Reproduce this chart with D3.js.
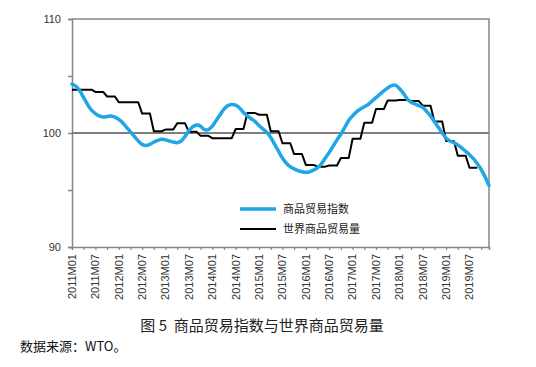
<!DOCTYPE html>
<html>
<head>
<meta charset="utf-8">
<script src="https://cdn.jsdelivr.net/npm/d3@7"></script>
<style>
  html, body { margin: 0; padding: 0; background: #fff; }
  svg { display: block; }
</style>
</head>
<body>
<div class="chart"></div>
<script>
'use strict';
(function() {
  // Data
  var years = [2011, 2012, 2013, 2014, 2015, 2016, 2017, 2018, 2019];
  var monthCodes = ['01','02','03','04','05','06','07','08','09','10','11','12'];
  var months = [];
  years.forEach(function(y) {
    monthCodes.forEach(function(m) { months.push(y + 'M' + m); });
  });

  var xTickLabels = ['2011M01','2011M07','2012M01','2012M07','2013M01','2013M07',
    '2014M01','2014M07','2015M01','2015M07','2016M01','2016M07',
    '2017M01','2017M07','2018M01','2018M07','2019M01','2019M07'];

  var yTicks = [90, 95, 100, 105, 110];
  var yTickLabels = [90, 100, 110];

  // 商品贸易指数, monthly 2011M01 - 2019M12
  var tradeIndex = [
    104.3, 104.1, 103.7, 103.1, 102.5, 102.0, 101.7, 101.5, 101.4, 101.45, 101.5, 101.4,
    101.2, 100.9, 100.5, 100.1, 99.7, 99.3, 99.0, 98.9, 99.0, 99.2, 99.35, 99.45,
    99.4, 99.3, 99.2, 99.15, 99.3, 99.7, 100.2, 100.55, 100.7, 100.6, 100.3, 100.3,
    100.6, 101.1, 101.6, 102.1, 102.4, 102.5, 102.45, 102.2, 101.8, 101.5, 101.25, 101.0,
    100.65, 100.35, 100.05, 99.6, 99.0, 98.4, 97.8, 97.35, 97.05, 96.85, 96.7, 96.6,
    96.55, 96.6, 96.75, 96.95, 97.3, 97.8, 98.3, 98.85, 99.4, 99.9, 100.5, 101.1,
    101.5, 101.85, 102.1, 102.3, 102.5, 102.8, 103.1, 103.4, 103.7, 103.95, 104.15, 104.2,
    103.9, 103.5, 103.0, 102.7, 102.55, 102.4, 102.25, 101.9, 101.5, 101.0, 100.5, 100.0,
    99.55, 99.3, 99.15, 98.95, 98.7, 98.4, 98.1, 97.75, 97.3, 96.8, 96.15, 95.4
  ];

  // 世界商品贸易量, quarterly 2011Q1 - 2019Q3
  var tradeVolume = [
    103.8, 103.8, 103.6, 103.2,
    102.7, 102.7, 101.7, 100.15,
    100.3, 100.85, 100.1, 99.75,
    99.55, 99.55, 100.35, 101.75,
    101.6, 100.15, 99.1, 98.15,
    97.2, 97.05, 97.15, 97.8,
    99.5, 100.9, 102.1, 102.85,
    102.9, 102.8, 102.4, 101.0,
    99.3, 98.0, 96.95
  ];

  var seriesNames = ['商品贸易指数', '世界商品贸易量'];
  var title = '图 5  商品贸易指数与世界商品贸易量';
  var source = '数据来源：WTO。';

  // Layout
  var w = 536;
  var h = 367;
  var left = 72;
  var right = 489;
  var top = 19;
  var bottom = 247;
  var BLUE = '#1ea7e4';
  var GRAY = '#868686';
  var NUM_FONT = '"Liberation Sans", Arial, sans-serif';
  var CJK_FONT = '"Noto Sans CJK SC", sans-serif';

  var svg = d3.select('.chart')
    .append('svg')
    .attr('width', w)
    .attr('height', h)
    .style('background', '#fff');

  var xScale = d3.scalePoint()
    .domain(months)
    .range([left, right]);

  var yScale = d3.scaleLinear()
    .domain([90, 110])
    .range([bottom, top]);

  // Plot frame (top and right)
  svg.append('path')
    .attr('d', 'M' + left + ',' + top + 'H' + right + 'V' + bottom)
    .attr('fill', 'none')
    .attr('stroke', GRAY)
    .attr('stroke-width', 1.5);

  // Y axis
  var yAxis = d3.axisLeft(yScale)
    .tickValues(yTicks)
    .tickSize(4)
    .tickPadding(7)
    .tickFormat(function(d) { return yTickLabels.indexOf(d) >= 0 ? d : ''; });

  var gy = svg.append('g')
    .attr('transform', 'translate(' + left + ',0)')
    .call(yAxis);
  gy.select('.domain').attr('stroke', GRAY).attr('stroke-width', 1.5);
  gy.selectAll('.tick line').attr('stroke', GRAY).attr('stroke-width', 1.5);
  gy.selectAll('.tick text')
    .attr('fill', '#333')
    .style('font-family', NUM_FONT)
    .style('font-size', '11px');

  // 100 reference line
  svg.append('line')
    .attr('x1', left)
    .attr('x2', right)
    .attr('y1', yScale(100))
    .attr('y2', yScale(100))
    .attr('stroke', '#7f7f7f')
    .attr('stroke-width', 2);

  // X axis
  var xAxis = d3.axisBottom(xScale)
    .tickValues(months.filter(function(d, i) { return i % 3 === 0; }).concat([months[months.length - 1]]))
    .tickSize(3)
    .tickFormat('');

  var gx = svg.append('g')
    .attr('transform', 'translate(0,' + bottom + ')')
    .call(xAxis);
  gx.select('.domain').attr('stroke', GRAY).attr('stroke-width', 1.5);
  gx.selectAll('.tick line').attr('stroke', GRAY).attr('stroke-width', 1.2);

  svg.append('g')
    .selectAll('text')
    .data(xTickLabels)
    .enter()
    .append('text')
    .text(function(d) { return d; })
    .attr('transform', function(d) {
      return 'translate(' + xScale(d) + ',' + (bottom + 7) + ') rotate(-90)';
    })
    .attr('dy', '0.35em')
    .attr('text-anchor', 'end')
    .attr('fill', '#333')
    .style('font-family', NUM_FONT)
    .style('font-size', '11px');

  // Lines
  var blueLine = d3.line()
    .x(function(d, i) { return xScale(months[i]); })
    .y(function(d) { return yScale(d); })
    .curve(d3.curveCatmullRom);

  var volumeMonthly = [];
  tradeVolume.forEach(function(v, q) {
    for (var k = 0; k < 3; k++) {
      volumeMonthly.push({ m: months[q * 3 + k], v: v });
    }
  });

  var blackLine = d3.line()
    .x(function(d) { return xScale(d.m); })
    .y(function(d) { return yScale(d.v); });

  svg.append('path')
    .datum(volumeMonthly)
    .attr('d', blackLine)
    .attr('fill', 'none')
    .attr('stroke', '#000')
    .attr('stroke-width', 2)
    .attr('stroke-linejoin', 'round');

  svg.append('path')
    .datum(tradeIndex)
    .attr('d', blueLine)
    .attr('fill', 'none')
    .attr('stroke', BLUE)
    .attr('stroke-width', 3.5)
    .attr('stroke-linejoin', 'round')
    .attr('stroke-linecap', 'round');

  // Legend
  var legend = svg.append('g')
    .selectAll('g')
    .data(seriesNames)
    .enter()
    .append('g')
    .attr('transform', function(d, i) { return 'translate(240,' + (209 + i * 20) + ')'; });

  legend.append('line')
    .attr('x1', 0)
    .attr('x2', 36)
    .attr('stroke', function(d, i) { return i === 0 ? BLUE : '#000'; })
    .attr('stroke-width', function(d, i) { return i === 0 ? 3.5 : 2; });

  legend.append('text')
    .text(function(d) { return d; })
    .attr('x', 43)
    .attr('dy', '0.35em')
    .attr('fill', '#222')
    .style('font-family', CJK_FONT)
    .style('font-size', '11px');

  // Title and source
  svg.append('text')
    .text(title)
    .attr('x', 262)
    .attr('y', 331)
    .attr('text-anchor', 'middle')
    .attr('fill', '#222')
    .style('font-family', CJK_FONT)
    .style('font-size', '15px')
    .style('white-space', 'pre');

  svg.append('text')
    .text(source)
    .attr('x', 20)
    .attr('y', 351)
    .attr('fill', '#111')
    .style('font-family', CJK_FONT)
    .style('font-size', '13px');
})();
</script>
</body>
</html>
